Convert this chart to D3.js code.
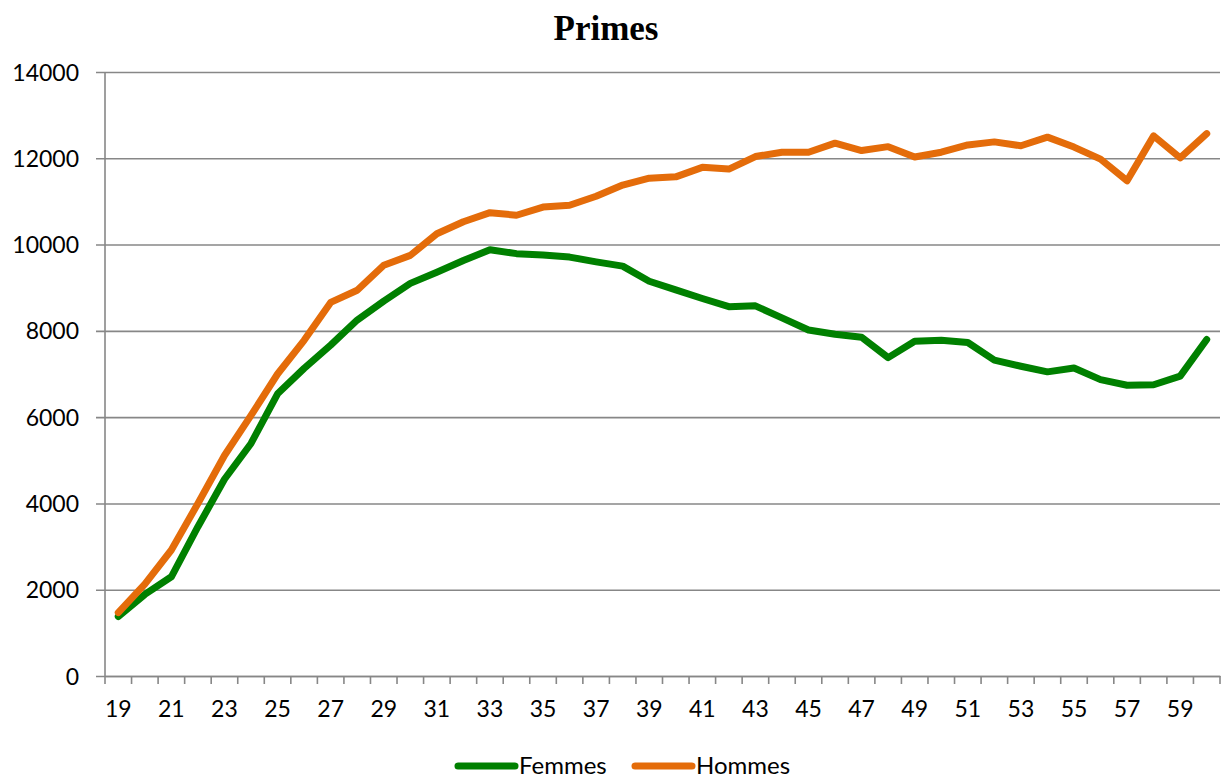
<!DOCTYPE html>
<html>
<head>
<meta charset="utf-8">
<style>
  body { margin: 0; background: #fff; font-family: Lato, "Open Sans", sans-serif; }
  .tick text { font-family: Lato, sans-serif; font-size: 23px; fill: #000; }
</style>
<script src="https://d3js.org/d3.v7.min.js"></script>
</head>
<body>
<svg id="chart" width="1222" height="778"></svg>
<script>
  // ages 19..60
  const ages = d3.range(19, 61)
  const femmes = [1380, 1890, 2300, 3460, 4560, 5390, 6540, 7130, 7670, 8250,
                  8690, 9100, 9360, 9630, 9880, 9790, 9760, 9710, 9600, 9500,
                  9150, 8950, 8750, 8560, 8580, 8300, 8020, 7920, 7850, 7380,
                  7760, 7780, 7730, 7320, 7180, 7050, 7140, 6870, 6740, 6750,
                  6950, 7800]
  const hommes = [1470, 2130, 2920, 4000, 5110, 6040, 7000, 7780, 8660, 8940,
                  9520, 9750, 10250, 10530, 10740, 10680, 10870, 10910, 11120, 11380,
                  11540, 11570, 11790, 11750, 12040, 12140, 12140, 12350, 12180, 12270,
                  12030, 12140, 12310, 12380, 12290, 12490, 12260, 11980, 11480, 12520,
                  12010, 12570]
  const yTicks = [0, 2000, 4000, 6000, 8000, 10000, 12000, 14000]
  const series = [
    {name: 'Femmes', values: femmes, color: '#008000'},
    {name: 'Hommes', values: hommes, color: '#E46C0A'}
  ]

  const svg = d3.select('#chart')
  const m = {left: 105, right: 1220, top: 72, bottom: 676}

  const x = d3.scaleBand().domain(ages).range([m.left, m.right]).padding(0)
  const y = d3.scaleLinear().domain([0, 14000]).range([m.bottom, m.top])

  // title
  svg.append('text')
    .attr('x', 606).attr('y', 40)
    .attr('text-anchor', 'middle')
    .style('font-family', '"Liberation Serif", "DejaVu Serif", serif')
    .style('font-weight', 'bold')
    .style('font-size', '35px')
    .text('Primes')

  // y axis with gridlines
  const yAxis = svg.append('g')
    .attr('transform', `translate(${m.left},0)`)
    .call(d3.axisLeft(y).tickValues(yTicks).tickFormat(d3.format('d'))
      .tickSize(-(m.right - m.left)).tickPadding(26).tickSizeOuter(0))
  yAxis.select('.domain').remove()
  yAxis.selectAll('.tick line')
    .attr('x1', -9)
    .attr('stroke', '#878787').attr('stroke-width', 1.6)
  yAxis.selectAll('.tick text').attr('dy', '0.35em')

  // y axis line
  svg.append('line')
    .attr('x1', m.left).attr('x2', m.left)
    .attr('y1', m.top).attr('y2', m.bottom)
    .attr('stroke', '#878787').attr('stroke-width', 1.6)

  // x axis
  const xAxis = svg.append('g')
    .attr('transform', `translate(0,${m.bottom})`)
    .call(d3.axisBottom(x).tickValues(ages.filter((d, i) => i % 2 === 0)).tickSize(0).tickPadding(33))
  xAxis.select('.domain')
    .attr('stroke', '#878787').attr('stroke-width', 1.6)
  xAxis.selectAll('.tick text').attr('dy', '0.35em')

  // category boundary tick marks
  svg.append('g').selectAll('line')
    .data(ages.concat([null]))
    .join('line')
    .attr('x1', (d, i) => m.left + i * x.bandwidth())
    .attr('x2', (d, i) => m.left + i * x.bandwidth())
    .attr('y1', m.bottom).attr('y2', m.bottom + 8)
    .attr('stroke', '#878787').attr('stroke-width', 1.6)

  // lines
  const line = d3.line()
    .x((d, i) => x(ages[i]) + x.bandwidth() / 2)
    .y(d => y(d))

  svg.append('g').selectAll('path')
    .data(series)
    .join('path')
    .attr('d', d => line(d.values))
    .attr('fill', 'none')
    .attr('stroke', d => d.color)
    .attr('stroke-width', 7)
    .attr('stroke-linejoin', 'round')
    .attr('stroke-linecap', 'round')

  // legend
  const legend = svg.append('g')
  const lg = legend.selectAll('g').data(series).join('g')
    .attr('transform', (d, i) => `translate(${458 + i * 177},766)`)
  lg.append('line')
    .attr('x1', 0).attr('x2', 57)
    .attr('stroke', d => d.color).attr('stroke-width', 7)
    .attr('stroke-linecap', 'round')
  lg.append('text')
    .attr('x', 61).attr('y', 8)
    .style('font-size', '24px')
    .style('font-family', 'Lato, sans-serif')
    .text(d => d.name)
</script>
</body>
</html>
